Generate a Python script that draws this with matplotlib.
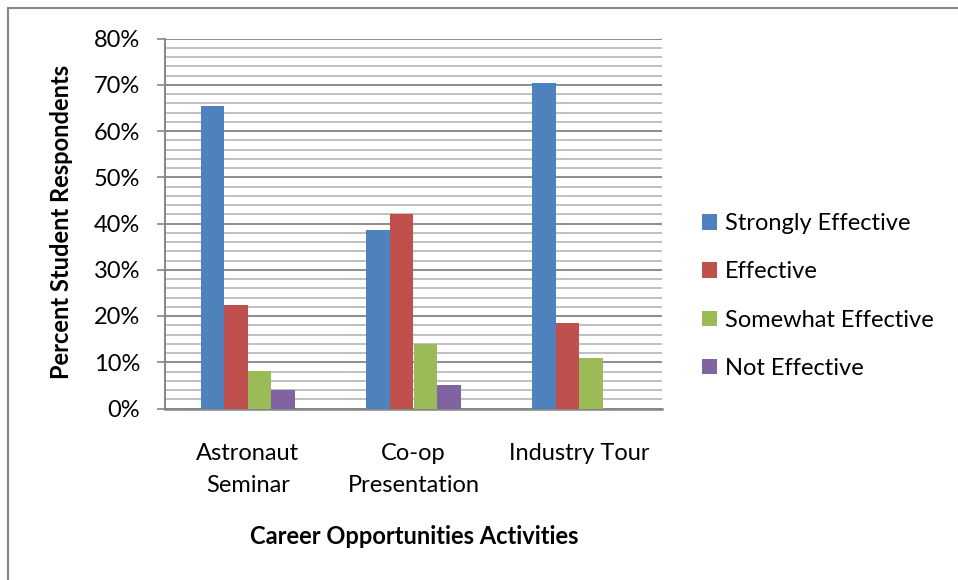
import matplotlib
matplotlib.use("Agg")
import matplotlib.pyplot as plt
import numpy as np
from matplotlib.patches import Rectangle
from matplotlib.ticker import MultipleLocator, PercentFormatter

categories = ["Astronaut\nSeminar", "Co-op\nPresentation", "Industry Tour"]
series_names = ["Strongly Effective", "Effective", "Somewhat Effective", "Not Effective"]
strongly_effective = [65.3, 38.6, 70.4]
effective = [22.4, 42.1, 18.4]
somewhat_effective = [8.1, 13.9, 11.0]
not_effective = [4.0, 5.1, 0.0]
colors = ["#4F81BD", "#C0504D", "#9BBB59", "#8064A2"]

plt.rcParams["font.family"] = ["Lato", "DejaVu Sans"]
FS = 17

fig = plt.figure(figsize=(9.58, 5.8), dpi=100)
ax = fig.add_axes([165 / 958, 1 - 408.5 / 580, 497 / 958, 370 / 580])

# chart area border
fig.patches.append(Rectangle((8 / 958, -0.1), 1.2, 1 - 8 / 580 + 0.1,
                             transform=fig.transFigure, fill=False,
                             edgecolor="#868686", linewidth=1.5))

x = np.arange(len(categories))
width = 0.142
all_series = [strongly_effective, effective, somewhat_effective, not_effective]
for i, (vals, name, c) in enumerate(zip(all_series, series_names, colors)):
    ax.bar(x + (i - 1.5) * width, vals, width, color=c, label=name,
           linewidth=0, zorder=3)

ax.set_xlim(-0.5, 2.5)
ax.set_ylim(0, 80)
ax.yaxis.set_major_locator(MultipleLocator(10))
ax.yaxis.set_minor_locator(MultipleLocator(2))
ax.yaxis.set_major_formatter(PercentFormatter(decimals=0))
ax.grid(which="minor", axis="y", color="#C0C0C0", linewidth=1.4, zorder=0)
ax.grid(which="major", axis="y", color="#8C8C8C", linewidth=1.4, zorder=1)
ax.set_xticks(x)
ax.set_xticklabels(categories, fontsize=FS, linespacing=1.62)
ax.tick_params(axis="x", length=0, pad=25)
ax.tick_params(axis="y", which="major", length=6, width=1.2, color="#868686",
               labelsize=FS, pad=12)
ax.tick_params(axis="y", which="minor", length=0)
for s in ["top", "right"]:
    ax.spines[s].set_visible(False)
ax.spines["left"].set_color("#868686")
ax.spines["left"].set_linewidth(1.4)
ax.spines["bottom"].set_color("#868686")
ax.spines["bottom"].set_linewidth(1.8)

fig.text(62 / 958, 1 - 222 / 580, "Percent Student Respondents", rotation=90,
         fontsize=FS, fontweight="bold", ha="center", va="center")
fig.text(414 / 958, 1 - 536 / 580, "Career Opportunities Activities",
         fontsize=FS, fontweight="bold", ha="center", va="center")

fig.legend(loc="center left", bbox_to_anchor=(693 / 958, 1 - 296 / 580),
           frameon=False, fontsize=FS, handlelength=0.62, handleheight=0.62,
           handletextpad=0.35, labelspacing=1.15, borderaxespad=0)

fig.savefig("out.png", dpi=100)
